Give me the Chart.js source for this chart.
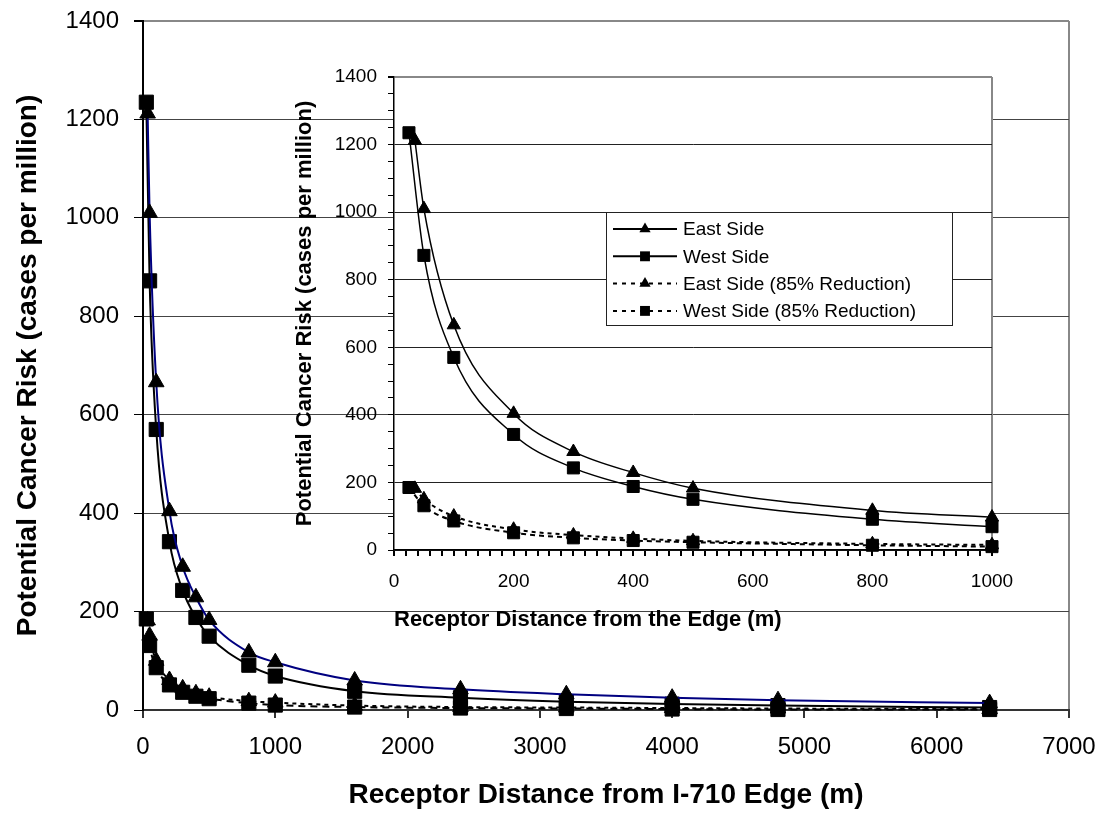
<!DOCTYPE html>
<html lang="en">
<head>
<meta charset="UTF-8">
<title>Potential Cancer Risk vs Receptor Distance</title>
<script src="https://cdn.jsdelivr.net/npm/chart.js@4.4.1/dist/chart.umd.min.js"></script>
<style>
  body { margin: 0; background: #fff; }
  #wrap { position: relative; width: 1107px; height: 813px; }
  #main { position: absolute; left: 0; top: 0; }
  #inset { position: absolute; left: 285px; top: 50px; }
</style>
</head>
<body>
<div id="wrap">
  <canvas id="main" width="1107" height="813"></canvas>
  <canvas id="inset" width="730" height="590"></canvas>
</div>
<script>
// receptor distances (m)
const eastDist = [35, 50, 100, 200, 300, 400, 500, 800, 1000, 1600, 2400, 3200, 4000, 4800, 6400];
const westDist = [25, 50, 100, 200, 300, 400, 500, 800, 1000, 1600, 2400, 3200, 4000, 4800, 6400];
// potential cancer risk (cases per million)
const eastRisk = [1212, 1010, 666, 404, 291, 229, 183, 117, 97, 60, 42, 32, 25, 20, 14];
const westRisk = [1235, 872, 570, 342, 243, 188, 150, 91, 69, 38, 25, 17, 12, 9, 5];
const eastRiskReduced = [182, 151, 100, 61, 44, 34, 27, 18, 15, 9, 6, 5, 4, 3, 2];
const westRiskReduced = [185, 131, 86, 51, 36, 28, 23, 14, 10, 6, 4, 3, 2, 1, 1];
const seriesNames = ["East Side", "West Side", "East Side (85% Reduction)", "West Side (85% Reduction)"];
// tick labels
const mainXTicks = [0, 1000, 2000, 3000, 4000, 5000, 6000, 7000];
const riskTicks = [0, 200, 400, 600, 800, 1000, 1200, 1400];
const insetXTicks = [0, 200, 400, 600, 800, 1000];

const FONT = "'Liberation Sans', Arial, sans-serif";
const pts = (xs, ys, maxX) => xs.map((x, i) => ({x: x, y: ys[i]})).filter(p => p.x <= maxX);
const last = a => a[a.length - 1];

// keep the plot area where the layout padding puts it
function fixSize(prop, size) {
  return s => {
    s[prop] = size;
    s.paddingLeft = s.paddingRight = s.paddingTop = s.paddingBottom = 0;
  };
}

function makeDatasets(maxX, big, eastColor) {
  const r = big ? 1 : 0.85;
  return [
    {label: seriesNames[0], data: pts(eastDist, eastRisk, maxX), borderColor: eastColor, borderWidth: big ? 2 : 1.5,
     pointStyle: 'triangle', pointRadius: 9 * r},
    {label: seriesNames[1], data: pts(westDist, westRisk, maxX), borderColor: '#000', borderWidth: big ? 2 : 1.5,
     pointStyle: 'rect', pointRadius: 10 * r},
    {label: seriesNames[2], data: pts(eastDist, eastRiskReduced, maxX), borderColor: '#000', borderWidth: 2,
     borderDash: [4, 4], pointStyle: 'triangle', pointRadius: 9 * r},
    {label: seriesNames[3], data: pts(westDist, westRiskReduced, maxX), borderColor: '#000', borderWidth: 2,
     borderDash: big ? [7, 5] : [5, 4], pointStyle: 'rect', pointRadius: 10 * r}
  ].map(d => Object.assign(d, {
    pointBackgroundColor: '#000', pointBorderColor: '#000', pointBorderWidth: 1,
    cubicInterpolationMode: 'monotone', clip: false, fill: false
  }));
}

// main chart
new Chart(document.getElementById('main'), {
  type: 'line',
  data: {datasets: makeDatasets(last(mainXTicks), true, '#000080')},
  options: {
    responsive: false,
    animation: false,
    devicePixelRatio: 1,
    layout: {padding: {top: 21, right: 38, left: 0, bottom: 0}},
    plugins: {legend: {display: false}, tooltip: {enabled: false}},
    scales: {
      x: {
        type: 'linear',
        min: mainXTicks[0], max: last(mainXTicks),
        ticks: {stepSize: mainXTicks[1] - mainXTicks[0], color: '#000', padding: 15,
                font: {family: FONT, size: 24}, maxRotation: 0, callback: v => String(v)},
        grid: {
          color: c => (c.tick && c.tick.value === last(mainXTicks)) ? '#888' : 'rgba(0,0,0,0)',
          lineWidth: 2, tickColor: '#333', tickLength: 8
        },
        border: {color: '#333', width: 2},
        title: {display: true, text: 'Receptor Distance from I-710 Edge (m)', color: '#000',
                font: {family: FONT, size: 28, weight: 'bold'}, padding: {top: 0, bottom: 1}},
        afterFit: fixSize('height', 103)
      },
      y: {
        min: riskTicks[0], max: last(riskTicks),
        ticks: {stepSize: riskTicks[1] - riskTicks[0], color: '#000', padding: 15,
                font: {family: FONT, size: 24}, callback: v => String(v)},
        grid: {
          color: c => (c.tick && c.tick.value === last(riskTicks)) ? '#888' : '#444',
          lineWidth: c => (c.tick && c.tick.value === last(riskTicks)) ? 2 : 1,
          tickColor: '#000', tickLength: 9
        },
        border: {color: '#000', width: 2},
        title: {display: true, text: 'Potential Cancer Risk (cases per million)', color: '#000',
                font: {family: FONT, size: 28, weight: 'bold'}, padding: {top: 11, bottom: 0}},
        afterFit: fixSize('width', 143)
      }
    }
  }
});

// inset: white plot area + legend box
function drawMarker(ctx, style, x, y, r) {
  ctx.beginPath();
  if (style === 'rect') {
    const s = r * Math.SQRT1_2;
    ctx.rect(x - s, y - s, 2 * s, 2 * s);
  } else {
    ctx.moveTo(x, y - r);
    ctx.lineTo(x + r * 0.866, y + r / 2);
    ctx.lineTo(x - r * 0.866, y + r / 2);
    ctx.closePath();
  }
  ctx.fill();
}

const insetPlugin = {
  id: 'insetBox',
  beforeDraw(chart) {
    const {ctx, chartArea: a} = chart;
    ctx.save();
    ctx.fillStyle = '#fff';
    ctx.fillRect(a.left, a.top, a.right - a.left, a.bottom - a.top);
    ctx.restore();
  },
  afterDraw(chart) {
    const {ctx, chartArea: a} = chart;
    const x0 = a.left + 212, y0 = a.top + 135, w = 346, h = 113;
    ctx.save();
    ctx.fillStyle = '#fff';
    ctx.fillRect(x0, y0, w, h);
    ctx.strokeStyle = '#222';
    ctx.lineWidth = 1;
    ctx.strokeRect(x0 + 0.5, y0 + 0.5, w, h);
    chart.data.datasets.forEach((d, i) => {
      const y = y0 + 17 + i * 27.3;
      ctx.strokeStyle = '#000';
      ctx.lineWidth = 2;
      ctx.setLineDash(d.borderDash ? [4, 5] : []);
      ctx.beginPath();
      ctx.moveTo(x0 + 7, y);
      ctx.lineTo(x0 + 71, y);
      ctx.stroke();
      ctx.setLineDash([]);
      ctx.fillStyle = '#000';
      drawMarker(ctx, d.pointStyle, x0 + 39, y, d.pointStyle === 'rect' ? 7 : 6.5);
      ctx.font = '19px ' + FONT;
      ctx.textBaseline = 'middle';
      ctx.fillText(d.label, x0 + 77, y + 1);
    });
    ctx.restore();
  }
};

new Chart(document.getElementById('inset'), {
  type: 'line',
  data: {datasets: makeDatasets(last(insetXTicks), false, '#000')},
  plugins: [insetPlugin],
  options: {
    responsive: false,
    animation: false,
    devicePixelRatio: 1,
    layout: {padding: {top: 27, right: 23, left: 0, bottom: 0}},
    plugins: {legend: {display: false}, tooltip: {enabled: false}},
    scales: {
      x: {
        type: 'linear',
        min: insetXTicks[0], max: last(insetXTicks),
        ticks: {stepSize: 20, autoSkip: false, maxRotation: 0, minRotation: 0, color: '#000', padding: 14,
                font: {family: FONT, size: 19},
                callback: v => insetXTicks.includes(v) ? String(v) : ''},
        grid: {
          color: c => (c.tick && c.tick.value === last(insetXTicks)) ? '#888' : 'rgba(0,0,0,0)',
          lineWidth: 2, tickColor: '#000', tickLength: 6
        },
        border: {color: '#000', width: 1.5},
        title: {display: true, text: 'Receptor Distance from the Edge (m)', color: '#000', align: 'start',
                font: {family: FONT, size: 22, weight: 'bold'}, padding: {top: 0, bottom: 7}},
        afterFit: fixSize('height', 90)
      },
      y: {
        min: riskTicks[0], max: last(riskTicks),
        ticks: {stepSize: 50, autoSkip: false, color: '#000', padding: 11,
                font: {family: FONT, size: 19},
                callback: v => riskTicks.includes(v) ? String(v) : ''},
        grid: {
          color: c => {
            if (!c.tick || !riskTicks.includes(c.tick.value)) return 'rgba(0,0,0,0)';
            return c.tick.value === last(riskTicks) ? '#888' : '#222';
          },
          lineWidth: c => (c.tick && c.tick.value === last(riskTicks)) ? 2 : 1,
          tickColor: '#000', tickLength: 6
        },
        border: {color: '#000', width: 1.5},
        title: {display: true, text: 'Potential Cancer Risk (cases per million)', color: '#000',
                font: {family: FONT, size: 22, weight: 'bold'}, padding: {top: 7, bottom: 0}},
        afterFit: fixSize('width', 109)
      }
    }
  }
});
</script>
</body>
</html>
